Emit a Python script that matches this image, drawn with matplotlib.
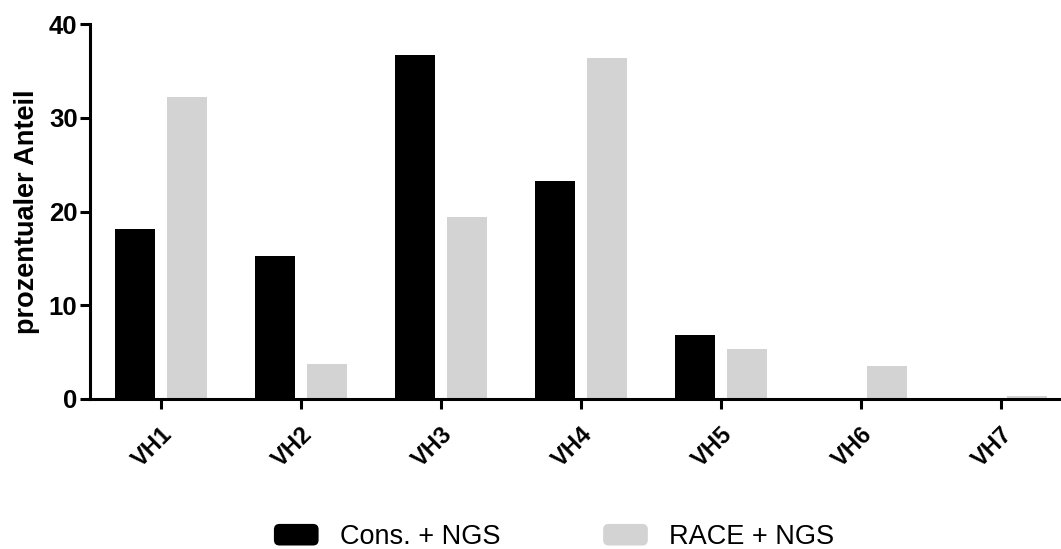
import matplotlib
matplotlib.use("Agg")
import matplotlib.pyplot as plt
import numpy as np
from matplotlib.patches import Patch, FancyBboxPatch
from matplotlib.legend_handler import HandlerPatch
import matplotlib.transforms as mtransforms

categories = ["VH1", "VH2", "VH3", "VH4", "VH5", "VH6", "VH7"]
cons_ngs = [18.1, 15.25, 36.7, 23.25, 6.8, 0.0, 0.0]
race_ngs = [32.2, 3.7, 19.4, 36.4, 5.3, 3.55, 0.3]
series_labels = ["Cons. + NGS", "RACE + NGS"]
yticks = [0, 10, 20, 30, 40]

plt.rcParams["font.family"] = ["Liberation Sans", "DejaVu Sans"]

W, H = 1061, 549
fig = plt.figure(figsize=(W / 100, H / 100), dpi=100)
ax = fig.add_axes([90 / W, (H - 399) / H, (W - 90) / W, (399 - 24) / H])

x = np.arange(len(categories))
width = 0.286
offset = 0.186
black = "#000000"
gray = "#d3d3d3"
ax.bar(x - offset, cons_ngs, width, color=black, zorder=2)
ax.bar(x + offset, race_ngs, width, color=gray, zorder=2)

ax.set_xlim(-0.507, (W - 161) / 140)
ax.set_ylim(0, 40)
ax.set_yticks(yticks)
ax.set_xticks(x)
ax.set_xticklabels(categories, rotation=45, ha="right", va="top",
                   rotation_mode="anchor", fontweight="bold", fontsize=17)
shift = mtransforms.ScaledTranslation(4 / 100, 0, fig.dpi_scale_trans)
for lab in ax.get_xticklabels():
    lab.set_transform(lab.get_transform() + shift)
for lab in ax.get_yticklabels():
    lab.set_fontweight("bold")
    lab.set_fontsize(18.5)

for side in ("top", "right"):
    ax.spines[side].set_visible(False)
for side in ("left", "bottom"):
    ax.spines[side].set_linewidth(2.2)
    ax.spines[side].set_clip_on(False)
ax.tick_params(axis="both", length=7, width=2.2, direction="out")
ax.tick_params(axis="y", pad=2)
ax.tick_params(axis="x", pad=10)

ax.set_ylabel("prozentualer Anteil", fontweight="bold", fontsize=19.5)
ax.yaxis.set_label_coords((40 - 90) / (W - 90), 0.5)


class RoundedHandler(HandlerPatch):
    def create_artists(self, legend, orig_handle, xdescent, ydescent,
                       width, height, fontsize, trans):
        p = FancyBboxPatch((-xdescent + 2, -ydescent + 2), width - 4, height - 4,
                           boxstyle="round,pad=2,rounding_size=4",
                           facecolor=orig_handle.get_facecolor(),
                           edgecolor="none", transform=trans)
        return [p]


handles = [Patch(facecolor=black), Patch(facecolor=gray)]
fig.legend(handles, series_labels, loc="center", bbox_to_anchor=(554 / W, 1 - 537 / H),
           ncol=2, frameon=False, fontsize=19.5, handlelength=1.65, handleheight=0.85,
           handletextpad=0.78, columnspacing=3.8,
           handler_map={Patch: RoundedHandler()})

fig.savefig("out.png", dpi=100)
